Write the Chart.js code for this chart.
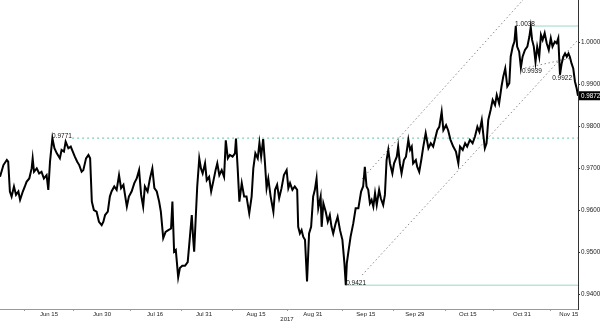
<!DOCTYPE html>
<html>
<head>
<meta charset="utf-8">
<script src="https://cdn.jsdelivr.net/npm/chart.js@4.4.1/dist/chart.umd.min.js"></script>
<style>
  html, body { margin: 0; padding: 0; background: #fff; }
  canvas { display: block; }
</style>
</head>
<body>
<canvas id="chart" width="600" height="323"></canvas>
<script>
// price path, x = days after 1 Jun 2017 (trading time), y = price
const days = [
  -0.4, 0.6, 1.6, 2.0, 2.5, 3.0, 3.7, 4.3, 5.0, 5.5, 6.3, 6.9, 7.4, 8.2, 8.9, 9.2, 9.6, 10.4, 11.1, 11.8,
  12.5, 13.3, 13.8, 14.3, 15.0, 15.6, 16.3, 17.2, 17.7, 18.4, 18.9, 19.7, 20.4, 21.0, 21.6, 22.3, 22.9, 23.6, 24.1, 24.9,
  25.6, 26.1, 26.6, 27.2, 28.0, 28.7,
  29.5, 30.0, 30.5, 31.3, 31.9, 32.4, 33.2, 33.9, 34.6, 35.2, 35.9, 36.9, 37.5, 38.3, 39.1, 39.8, 40.5, 41.1, 41.7, 42.2,
  43.0, 43.7, 44.4, 45.0, 45.7, 46.4, 46.9, 47.6, 48.3, 49.1, 49.9, 50.3, 50.8, 51.3, 52.0, 52.5, 53.2, 54.0, 54.8, 55.2,
  56.0, 56.4, 56.7, 57.2, 57.6, 58.2, 58.7, 59.2, 59.9, 60.4, 61.1, 61.7, 62.3, 63.0, 63.5, 64.1, 64.8, 65.5, 66.0, 66.6,
  67.2, 68.0, 68.7, 69.0, 69.5, 70.0, 70.7, 71.4, 72.1, 72.9, 73.6, 74.1, 74.7, 75.4, 75.9, 76.4, 77.0, 77.5, 78.0, 78.5,
  79.2, 80.0, 80.5, 81.1, 81.7, 82.4, 83.1, 83.9, 84.4,
  84.9, 85.6, 86.3, 87.0, 87.3, 87.8, 88.3, 88.8, 89.3, 89.9, 90.5, 91.1, 91.7, 92.2, 92.7, 93.2, 93.9, 94.2, 94.7, 95.4,
  96.0, 96.6, 97.1, 97.6, 98.3, 98.9, 99.6, 100.3, 100.9, 101.3, 101.6, 102.0, 102.7, 103.5, 104.2, 105.0, 105.8, 106.4, 106.9, 107.4,
  107.9, 108.4, 108.9, 109.4, 109.9, 110.4, 111.1, 111.6, 112.3, 112.8,
  113.3, 113.8, 114.3, 115.0, 115.5, 116.3, 116.7, 117.2, 117.7, 118.4, 119.0, 119.7, 120.2, 120.7, 121.1, 121.9, 122.3, 122.9, 123.5, 124.1,
  124.8, 125.6, 126.3, 127.0, 127.5, 128.2, 128.8, 129.5, 130.0, 130.8, 131.4, 132.1, 132.9, 133.7, 134.4, 134.9, 135.7, 136.4, 137.0, 137.8,
  138.6, 139.3, 140.0, 140.6,
  141.3, 141.7, 142.2, 142.7, 143.2, 143.9, 144.5, 145.2, 145.7, 146.4, 147.1, 147.6, 148.2, 148.8, 149.4, 149.8, 150.4, 150.9, 151.3, 151.7,
  152.3, 152.8, 153.3, 154.0, 154.7, 155.3, 155.7, 156.1, 156.6, 157.1, 157.6, 158.2, 158.7, 159.2, 159.8, 160.4, 161.0, 161.6, 162.1, 162.8,
  163.3, 163.8, 164.3, 164.8, 165.3, 165.8, 166.3, 166.8, 167.2, 167.7, 168.2, 168.7, 169.2, 169.6
];
const prices = [
  0.9679, 0.9707, 0.9719, 0.9715, 0.9644, 0.9632, 0.9656, 0.9636, 0.9644, 0.9624, 0.9644, 0.9656, 0.9667, 0.9675, 0.9699, 0.9723, 0.9691, 0.9699, 0.9687, 0.9691,
  0.9675, 0.9683, 0.9648, 0.9715, 0.9771, 0.9747, 0.9735, 0.9723, 0.9743, 0.9739, 0.9763, 0.9747, 0.9751, 0.9739, 0.9727, 0.9715, 0.9707, 0.9691, 0.9695, 0.9723,
  0.9731, 0.9723, 0.9620, 0.9600, 0.9596, 0.9572,
  0.9564, 0.9572, 0.9588, 0.9596, 0.9632, 0.9644, 0.9656, 0.9648, 0.9683, 0.9652, 0.9660, 0.9608, 0.9632, 0.9644, 0.9664, 0.9675, 0.9695, 0.9636, 0.9608, 0.9656,
  0.9644, 0.9675, 0.9699, 0.9652, 0.9644, 0.9620, 0.9596, 0.9533, 0.9548, 0.9552, 0.9556, 0.9620, 0.9501, 0.9505, 0.9440, 0.9462, 0.9467, 0.9467, 0.9476, 0.9513,
  0.9588, 0.9533, 0.9501, 0.9588, 0.9656, 0.9723, 0.9699, 0.9687, 0.9711, 0.9671, 0.9679, 0.9644, 0.9667, 0.9695, 0.9711, 0.9683, 0.9695, 0.9679, 0.9766, 0.9723,
  0.9731, 0.9727, 0.9735, 0.9770, 0.9699, 0.9620, 0.9664, 0.9632, 0.9632, 0.9592, 0.9632, 0.9699, 0.9735, 0.9723, 0.9760, 0.9727, 0.9769, 0.9715, 0.9652, 0.9675,
  0.9632, 0.9596, 0.9648, 0.9660, 0.9628, 0.9652, 0.9683, 0.9695, 0.9652,
  0.9664, 0.9648, 0.9656, 0.9648, 0.9560, 0.9544, 0.9552, 0.9536, 0.9529, 0.9430, 0.9544, 0.9560, 0.9632, 0.9648, 0.9675, 0.9604, 0.9632, 0.9560, 0.9616, 0.9596,
  0.9572, 0.9588, 0.9560, 0.9544, 0.9568, 0.9584, 0.9552, 0.9529, 0.9473, 0.9421, 0.9473, 0.9497, 0.9536, 0.9568, 0.9604, 0.9604, 0.9644, 0.9656, 0.9703, 0.9656,
  0.9648, 0.9616, 0.9624, 0.9608, 0.9640, 0.9612, 0.9648, 0.9628, 0.9612, 0.9636,
  0.9719, 0.9743, 0.9711, 0.9687, 0.9711, 0.9727, 0.9751, 0.9711, 0.9687, 0.9719, 0.9727, 0.9767, 0.9743, 0.9751, 0.9711, 0.9719, 0.9703, 0.9691, 0.9719, 0.9751,
  0.9783, 0.9747, 0.9759, 0.9751, 0.9767, 0.9790, 0.9798, 0.9834, 0.9790, 0.9802, 0.9790, 0.9767, 0.9751, 0.9739, 0.9711, 0.9751, 0.9743, 0.9759, 0.9751, 0.9767,
  0.9759, 0.9775, 0.9798, 0.9786,
  0.9814, 0.9783, 0.9747, 0.9759, 0.9814, 0.9838, 0.9862, 0.9850, 0.9874, 0.9854, 0.9894, 0.9917, 0.9937, 0.9894, 0.9902, 0.9965, 0.9989, 1.0001, 1.0038, 0.9989,
  0.9977, 0.9939, 0.9965, 0.9981, 0.9989, 1.0013, 1.0036, 1.0005, 0.9989, 0.9953, 0.9989, 0.9965, 1.0017, 1.0005, 1.0021, 0.9997, 0.9981, 1.0009, 0.9989, 1.0001,
  0.9997, 1.0009, 0.9922, 0.9949, 0.9965, 0.9973, 0.9965, 0.9973, 0.9965, 0.9949, 0.9937, 0.9906, 0.9890, 0.9872
];

// axis
const xTickPos = [14, 29.6, 45.2, 59.6, 74.9, 91.6, 107.2, 121.6, 137.2, 153.1, 166.9];
const xTickLabels = ['Jun 15', 'Jun 30', 'Jul 16', 'Jul 31', 'Aug 15', 'Aug 31', 'Sep 15', 'Sep 29', 'Oct 15', 'Oct 31', 'Nov 15'];
const xMinorPos = [6.9, 21.1, 38.1, 53.1, 68.1, 84.3, 100.2, 115.2, 130.5, 144.6, 161.6];
const yearLabel = '2017';
const yearPos = 84;
const yTicks = [0.94, 0.95, 0.96, 0.97, 0.98, 0.99, 1.00];

// levels: resistance 0.9771, high 1.0038, low 0.9421
const levelValues = [0.9771, 1.0038, 0.9421];
const levelFrom = [20.8, 156.4, 101.3];
const levelLabelPos = [14.9, 151.1, 101.4];
// swing lows
const lowValues = [0.9939, 0.9922];
const lowLabelPos = [153.1, 162.0];
// trend channel [x0, y0, x1, y1]
const channelUpper = [106.1, 0.9674, 153.4, 1.0100];
const channelLower = [106.1, 0.9445, 169.6, 1.0005];
const neckLine = [154.0, 0.9938, 167.8, 0.9962];

const X_MIN = -0.41, X_MAX = 169.6;
const Y_MIN = 0.93643, Y_MAX = 1.01;

Chart.defaults.font.family = "'Liberation Sans', Arial, sans-serif";

function seg(a) {
  return [{ x: a[0], y: a[1] }, { x: a[2], y: a[3] }];
}

const labelPlugin = {
  id: 'labels',
  afterDraw(chart) {
    const { ctx, scales: { x, y }, chartArea } = chart;
    ctx.save();
    ctx.font = "6.5px 'Liberation Sans', Arial, sans-serif";
    ctx.fillStyle = '#111';
    ctx.textAlign = 'left';
    ctx.textBaseline = 'bottom';
    levelValues.forEach((v, i) => {
      ctx.fillText(v.toFixed(4), x.getPixelForValue(levelLabelPos[i]), y.getPixelForValue(v) + 1);
    });
    ctx.textBaseline = 'top';
    lowValues.forEach((v, i) => {
      ctx.fillText(v.toFixed(4), x.getPixelForValue(lowLabelPos[i]), y.getPixelForValue(v) + 0.5);
    });

    // year under the axis
    ctx.font = "6px 'Liberation Sans', Arial, sans-serif";
    ctx.textAlign = 'center';
    ctx.textBaseline = 'middle';
    ctx.fillStyle = '#222';
    ctx.fillText(yearLabel, x.getPixelForValue(yearPos), chartArea.bottom + 10);

    // last price tag
    const last = prices[prices.length - 1];
    const py = y.getPixelForValue(last);
    ctx.fillStyle = '#000';
    ctx.fillRect(chartArea.right + 1, py - 4.5, 22, 9);
    ctx.fillStyle = '#fff';
    ctx.font = "6.3px 'Liberation Sans', Arial, sans-serif";
    ctx.textAlign = 'left';
    ctx.fillText(last.toFixed(4), chartArea.right + 3, py + 0.5);
    ctx.restore();
  }
};

const ctx = document.getElementById('chart').getContext('2d');
const chart = new Chart(ctx, {
  type: 'line',
  data: {
    datasets: [
      {
        data: days.map((d, i) => ({ x: d, y: prices[i] })),
        borderColor: '#000',
        borderWidth: 2,
        pointRadius: 0,
        tension: 0,
        borderJoinStyle: 'miter'
      },
      {
        data: [{ x: levelFrom[0], y: levelValues[0] }, { x: X_MAX, y: levelValues[0] }],
        borderColor: '#7fcdbf', borderWidth: 1.2, borderDash: [2, 3], pointRadius: 0
      },
      {
        data: [{ x: levelFrom[1], y: levelValues[1] }, { x: X_MAX, y: levelValues[1] }],
        borderColor: '#9ad6cb', borderWidth: 1, pointRadius: 0
      },
      {
        data: [{ x: levelFrom[2], y: levelValues[2] }, { x: X_MAX, y: levelValues[2] }],
        borderColor: '#9ad6cb', borderWidth: 1, pointRadius: 0
      },
      { data: seg(channelUpper), borderColor: '#8a8a8a', borderWidth: 1, borderDash: [1.5, 2.5], pointRadius: 0 },
      { data: seg(channelLower), borderColor: '#8a8a8a', borderWidth: 1, borderDash: [1.5, 2.5], pointRadius: 0 },
      { data: seg(neckLine), borderColor: '#8a8a8a', borderWidth: 1, borderDash: [1.5, 2.5], pointRadius: 0 }
    ]
  },
  options: {
    responsive: false,
    animation: false,
    layout: { padding: 0 },
    plugins: { legend: { display: false }, tooltip: { enabled: false } },
    scales: {
      x: {
        type: 'linear',
        min: X_MIN,
        max: X_MAX,
        afterBuildTicks: s => {
          s.ticks = xTickPos.concat(xMinorPos).sort((a, b) => a - b).map(v => ({ value: v }));
        },
        afterFit: s => {
          s.height = 14;
          s.paddingLeft = 0;
          s.paddingRight = 0;
        },
        ticks: {
          autoSkip: false,
          maxRotation: 0,
          padding: 0,
          color: '#222',
          font: { size: 6 },
          callback: v => {
            const i = xTickPos.indexOf(v);
            return i >= 0 ? xTickLabels[i] : '';
          }
        },
        grid: {
          drawOnChartArea: false,
          tickLength: 2,
          color: c => (c.tick && xMinorPos.includes(c.tick.value)) ? '#999' : 'rgba(0,0,0,0)'
        },
        border: { color: '#999', width: 1 }
      },
      y: {
        position: 'right',
        min: Y_MIN,
        max: Y_MAX,
        afterBuildTicks: s => {
          s.ticks = yTicks.map(v => ({ value: v }));
        },
        afterFit: s => {
          s.width = 22;
          s.paddingTop = 0;
          s.paddingBottom = 0;
        },
        ticks: {
          padding: 1,
          color: '#222',
          font: { size: 6.3 },
          callback: v => v.toFixed(4)
        },
        grid: { drawOnChartArea: false, tickLength: 2, color: '#333' },
        border: { color: '#333', width: 1 }
      }
    }
  },
  plugins: [labelPlugin]
});
</script>
</body>
</html>
